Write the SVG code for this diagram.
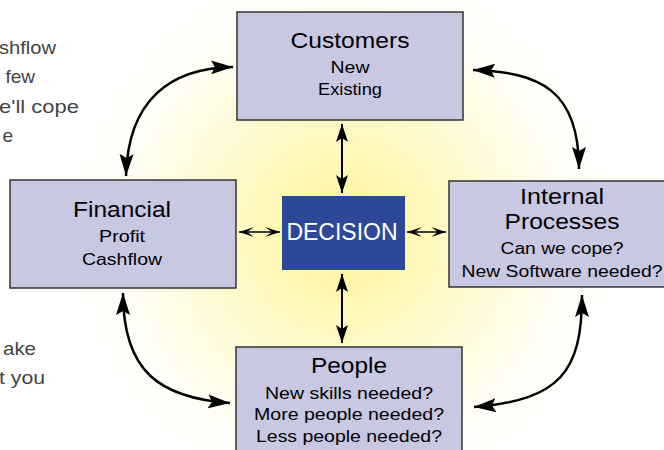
<svg xmlns="http://www.w3.org/2000/svg" width="664" height="450" viewBox="0 0 664 450">
<defs>
<radialGradient id="glow" gradientUnits="userSpaceOnUse" cx="343" cy="233" r="280">
<stop offset="0" stop-color="#FFF596"/>
<stop offset="0.45" stop-color="#FFF9CC"/>
<stop offset="0.8" stop-color="#FFFEF6"/>
<stop offset="1" stop-color="#FFFFFF"/>
</radialGradient>
<marker id="big" markerUnits="userSpaceOnUse" markerWidth="24" markerHeight="16" refX="22" refY="7" orient="auto-start-reverse" viewBox="0 0 24 14">
<path d="M0,0 L22,7 L0,14 L4,7 z" fill="#000"/>
</marker>
<marker id="small" markerUnits="userSpaceOnUse" markerWidth="20" markerHeight="14" refX="18" refY="6" orient="auto-start-reverse" viewBox="0 0 20 12">
<path d="M0,0 L18,6 L0,12 L4,6 z" fill="#000"/>
</marker>
<marker id="thin" markerUnits="userSpaceOnUse" markerWidth="17" markerHeight="12" refX="15" refY="5" orient="auto-start-reverse" viewBox="0 0 17 10">
<path d="M0,0 L15,5 L0,10 L7,5 z" fill="#000"/>
</marker>
</defs>
<style>
.box{fill:#C8C8E2;stroke:#333;stroke-width:1.5}
.t{font-family:"Liberation Sans",Arial,sans-serif;fill:#000;text-anchor:middle}
.h{font-size:22px}
.s{font-size:16px}
.side{font-family:"Liberation Sans",Arial,sans-serif;font-size:19px;fill:#444;text-anchor:end}
.big{fill:none;stroke:#000;stroke-width:2.5;marker-start:url(#big);marker-end:url(#big)}
.sm{fill:none;stroke:#000;stroke-width:2;marker-start:url(#small);marker-end:url(#small)}
.th{fill:none;stroke:#000;stroke-width:1.5;marker-start:url(#thin);marker-end:url(#thin)}
</style>
<rect width="664" height="450" fill="url(#glow)"/>
<g id="side-text">
<text class="side" x="56" y="54" textLength="57" lengthAdjust="spacingAndGlyphs">shflow</text>
<text class="side" x="35" y="83">few</text>
<text class="side" x="79" y="113" textLength="80" lengthAdjust="spacingAndGlyphs">e'll cope</text>
<text class="side" x="13" y="142">e</text>
<text class="side" x="36" y="355" textLength="33" lengthAdjust="spacingAndGlyphs">ake</text>
<text class="side" x="45" y="384" textLength="46" lengthAdjust="spacingAndGlyphs">t you</text>
</g>
<g id="connectors">
<path class="big" d="M126,176 C128,100 170,68 233,67"/>
<path class="big" d="M473,70 C540,72 579,90 579,169"/>
<path class="big" d="M123,293 C123,372 160,398 230,403"/>
<path class="big" d="M582,295 C582,372 560,400 474,407"/>
<path class="sm" d="M342,124 L342,193"/>
<path class="sm" d="M342,274 L342,343"/>
<path class="th" d="M239,232 L280,232"/>
<path class="th" d="M407,232 L446,232"/>
</g>
<g id="customers">
<rect class="box" x="237" y="12" width="226" height="108"/>
<text class="t h" x="350" y="48" textLength="119" lengthAdjust="spacingAndGlyphs">Customers</text>
<text class="t s" x="350" y="73" textLength="39" lengthAdjust="spacingAndGlyphs">New</text>
<text class="t s" x="350" y="95" textLength="64" lengthAdjust="spacingAndGlyphs">Existing</text>
</g>
<g id="financial">
<rect class="box" x="10" y="180" width="226" height="108"/>
<text class="t h" x="122" y="217" textLength="98" lengthAdjust="spacingAndGlyphs">Financial</text>
<text class="t s" x="122" y="242" textLength="46" lengthAdjust="spacingAndGlyphs">Profit</text>
<text class="t s" x="122" y="265" textLength="80" lengthAdjust="spacingAndGlyphs">Cashflow</text>
</g>
<g id="internal">
<rect class="box" x="449" y="181" width="226" height="106"/>
<text class="t h" x="562" y="204" textLength="84" lengthAdjust="spacingAndGlyphs">Internal</text>
<text class="t h" x="562" y="229" textLength="115" lengthAdjust="spacingAndGlyphs">Processes</text>
<text class="t s" x="562" y="254" textLength="123" lengthAdjust="spacingAndGlyphs">Can we cope?</text>
<text class="t s" x="562" y="277" textLength="201" lengthAdjust="spacingAndGlyphs">New Software needed?</text>
</g>
<g id="people">
<rect class="box" x="236" y="347" width="226" height="108"/>
<text class="t h" x="349" y="373" textLength="76" lengthAdjust="spacingAndGlyphs">People</text>
<text class="t s" x="349" y="399" textLength="168" lengthAdjust="spacingAndGlyphs">New skills needed?</text>
<text class="t s" x="349" y="420" textLength="190" lengthAdjust="spacingAndGlyphs">More people needed?</text>
<text class="t s" x="349" y="442" textLength="186" lengthAdjust="spacingAndGlyphs">Less people needed?</text>
</g>
<g id="decision">
<rect x="282" y="196" width="123" height="74" fill="#2E4898"/>
<text x="342" y="240" font-family="'Liberation Sans',Arial,sans-serif" font-size="23" fill="#fff" text-anchor="middle">DECISION</text>
</g>
</svg>
